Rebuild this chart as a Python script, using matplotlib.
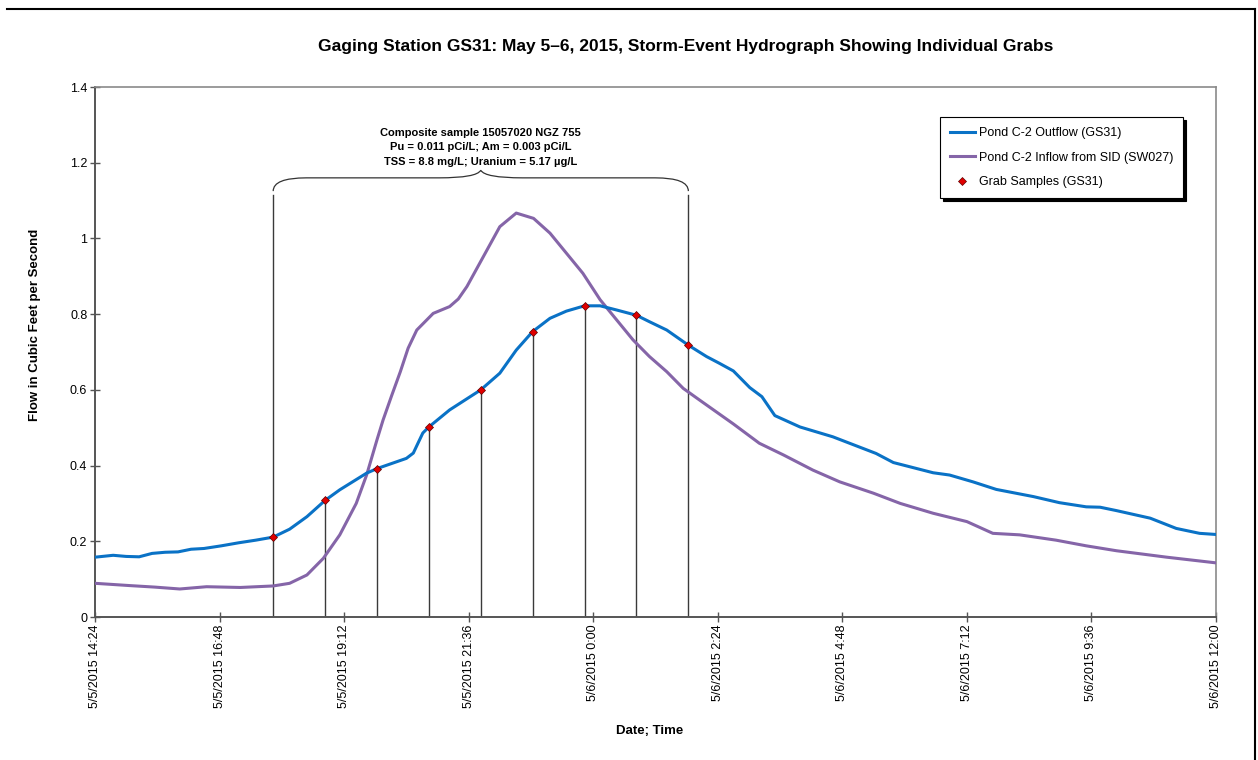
import pandas as pd
import matplotlib.pyplot as plt
import matplotlib.dates as mdates
from matplotlib.path import Path
from matplotlib.patches import PathPatch
from matplotlib.lines import Line2D

plt.rcParams['font.family'] = ['Liberation Sans', 'DejaVu Sans']

# Pond C-2 outflow at GS31 (cfs)
outflow_time = [
    "5/5/2015 14:24", "5/5/2015 14:45", "5/5/2015 15:00", "5/5/2015 15:15",
    "5/5/2015 15:30", "5/5/2015 15:45", "5/5/2015 16:00", "5/5/2015 16:15",
    "5/5/2015 16:30", "5/5/2015 16:50", "5/5/2015 17:10", "5/5/2015 17:30",
    "5/5/2015 17:50", "5/5/2015 18:09", "5/5/2015 18:29", "5/5/2015 18:50",
    "5/5/2015 19:07", "5/5/2015 19:38", "5/5/2015 19:50", "5/5/2015 20:24",
    "5/5/2015 20:32", "5/5/2015 20:38", "5/5/2015 20:43", "5/5/2015 20:50",
    "5/5/2015 21:14", "5/5/2015 21:50", "5/5/2015 22:12", "5/5/2015 22:31",
    "5/5/2015 22:50", "5/5/2015 23:10", "5/5/2015 23:29", "5/5/2015 23:50",
    "5/6/2015 0:08", "5/6/2015 0:27", "5/6/2015 0:50", "5/6/2015 1:05",
    "5/6/2015 1:25", "5/6/2015 1:50", "5/6/2015 2:11", "5/6/2015 2:26",
    "5/6/2015 2:42", "5/6/2015 3:01", "5/6/2015 3:15", "5/6/2015 3:30",
    "5/6/2015 3:59", "5/6/2015 4:37", "5/6/2015 5:27", "5/6/2015 5:47",
    "5/6/2015 6:33", "5/6/2015 6:52", "5/6/2015 7:19", "5/6/2015 7:46",
    "5/6/2015 8:29", "5/6/2015 8:59", "5/6/2015 9:30", "5/6/2015 9:46",
    "5/6/2015 10:05", "5/6/2015 10:44", "5/6/2015 11:14", "5/6/2015 11:41",
    "5/6/2015 12:00",
]
outflow_cfs = [
    0.158, 0.163, 0.160, 0.159,
    0.168, 0.171, 0.172, 0.179,
    0.181, 0.188, 0.196, 0.203,
    0.211, 0.232, 0.265, 0.308,
    0.336, 0.380, 0.392, 0.419,
    0.433, 0.462, 0.486, 0.502,
    0.547, 0.600, 0.644, 0.705,
    0.754, 0.789, 0.808, 0.822,
    0.822, 0.811, 0.797, 0.780,
    0.758, 0.718, 0.688, 0.670,
    0.650, 0.606, 0.582, 0.532,
    0.502, 0.476, 0.432, 0.408,
    0.381, 0.375, 0.357, 0.337,
    0.318, 0.302, 0.291, 0.290,
    0.281, 0.261, 0.234, 0.221,
    0.218,
]

# Pond C-2 inflow from SID at SW027 (cfs)
inflow_time = [
    "5/5/2015 14:24", "5/5/2015 15:04", "5/5/2015 15:33", "5/5/2015 16:02",
    "5/5/2015 16:33", "5/5/2015 17:12", "5/5/2015 17:50", "5/5/2015 18:09",
    "5/5/2015 18:29", "5/5/2015 18:48", "5/5/2015 19:07", "5/5/2015 19:26",
    "5/5/2015 19:38", "5/5/2015 19:50", "5/5/2015 19:57", "5/5/2015 20:07",
    "5/5/2015 20:17", "5/5/2015 20:26", "5/5/2015 20:36", "5/5/2015 20:55",
    "5/5/2015 21:14", "5/5/2015 21:24", "5/5/2015 21:34", "5/5/2015 21:53",
    "5/5/2015 22:12", "5/5/2015 22:31", "5/5/2015 22:51", "5/5/2015 23:10",
    "5/5/2015 23:29", "5/5/2015 23:48", "5/6/2015 0:08", "5/6/2015 0:27",
    "5/6/2015 0:46", "5/6/2015 1:05", "5/6/2015 1:25", "5/6/2015 1:44",
    "5/6/2015 2:03", "5/6/2015 2:42", "5/6/2015 3:12", "5/6/2015 3:40",
    "5/6/2015 4:14", "5/6/2015 4:45", "5/6/2015 5:24", "5/6/2015 5:55",
    "5/6/2015 6:33", "5/6/2015 7:12", "5/6/2015 7:42", "5/6/2015 8:13",
    "5/6/2015 8:55", "5/6/2015 9:30", "5/6/2015 10:05", "5/6/2015 11:03",
    "5/6/2015 12:00",
]
inflow_cfs = [
    0.089, 0.083, 0.079, 0.074,
    0.080, 0.078, 0.082, 0.089,
    0.111, 0.155, 0.217, 0.300,
    0.375, 0.468, 0.520, 0.585,
    0.648, 0.710, 0.758, 0.802,
    0.820, 0.840, 0.873, 0.952,
    1.031, 1.067, 1.053, 1.014,
    0.961, 0.908, 0.838, 0.785,
    0.732, 0.688, 0.648, 0.604,
    0.573, 0.510, 0.459, 0.428,
    0.388, 0.357, 0.327, 0.300,
    0.274, 0.252, 0.221, 0.217,
    0.203, 0.188, 0.175, 0.158,
    0.143,
]

# hourly grab samples at GS31
grab_time = [
    "5/5/2015 17:50", "5/5/2015 18:50", "5/5/2015 19:50", "5/5/2015 20:50",
    "5/5/2015 21:50", "5/5/2015 22:50", "5/5/2015 23:50", "5/6/2015 0:50",
    "5/6/2015 1:50",
]
grab_cfs = [0.211, 0.309, 0.392, 0.502, 0.600, 0.754, 0.822, 0.797, 0.718]

composite_note = ("Composite sample 15057020 NGZ 755\n"
                  "Pu = 0.011 pCi/L; Am = 0.003 pCi/L\n"
                  "TSS = 8.8 mg/L; Uranium = 5.17 \u00b5g/L")

fmt = "%m/%d/%Y %H:%M"
t_out = pd.to_datetime(outflow_time, format=fmt)
t_in = pd.to_datetime(inflow_time, format=fmt)
t_grab = pd.to_datetime(grab_time, format=fmt)

narrow = ['Liberation Sans Narrow', 'Liberation Sans', 'DejaVu Sans']
axis_grey = '#555555'

fig = plt.figure(figsize=(12.58, 7.6), dpi=100)
ax = fig.add_axes([95 / 1258, 1 - 617 / 760, (1216 - 95) / 1258, (617 - 87) / 760])

# sample stems; first and last run up to the composite bracket
top_stem = 1.115
for i, (t, v) in enumerate(zip(t_grab, grab_cfs)):
    y1 = top_stem if i in (0, len(grab_cfs) - 1) else v
    ax.plot([t, t], [0, y1], color='#3a3a3a', lw=1.0, zorder=2)

ax.plot(t_out, outflow_cfs, color='#0A72C6', lw=2.2, zorder=4,
        solid_joinstyle='round', label='Pond C-2 Outflow (GS31)')
ax.plot(t_in, inflow_cfs, color='#8565A8', lw=2.2, zorder=3,
        solid_joinstyle='round', label='Pond C-2 Inflow from SID (SW027)')
ax.plot(t_grab, grab_cfs, linestyle='none', marker='D', markersize=4.2,
        markerfacecolor='#E00000', markeredgecolor='#600000', markeredgewidth=0.5,
        zorder=5, label='Grab Samples (GS31)')

# curly brace over the composited grabs
x0 = mdates.date2num(t_grab[0])
x1 = mdates.date2num(t_grab[-1])
xm = (x0 + x1) / 2
w = x1 - x0
yb, yf, yt = 1.125, 1.16, 1.18
verts = [
    (x0, yb),
    (x0, yf), (x0 + 0.08 * w, yf),
    (xm - 0.10 * w, yf),
    (xm - 0.01 * w, yf), (xm, yt),
    (xm + 0.01 * w, yf), (xm + 0.10 * w, yf),
    (x1 - 0.08 * w, yf),
    (x1, yf), (x1, yb),
]
codes = [Path.MOVETO,
         Path.CURVE3, Path.CURVE3,
         Path.LINETO,
         Path.CURVE3, Path.CURVE3,
         Path.CURVE3, Path.CURVE3,
         Path.LINETO,
         Path.CURVE3, Path.CURVE3]
ax.add_patch(PathPatch(Path(verts, codes), facecolor='none', edgecolor='#333333', lw=0.9))
ax.text(xm, 1.19, composite_note, ha='center', va='bottom', fontsize=8,
        family=narrow, fontweight='bold', linespacing=1.55)

ax.set_ylim(0, 1.4)
ax.set_yticks([0, 0.2, 0.4, 0.6, 0.8, 1.0, 1.2, 1.4])
ax.set_yticklabels(['0', '0.2', '0.4', '0.6', '0.8', '1', '1.2', '1.4'])

start = pd.Timestamp("2015-05-05 14:24")
end = pd.Timestamp("2015-05-06 12:00")
ax.set_xlim(start, end)
xt = pd.date_range(start, end, periods=10)
ax.set_xticks(xt)
ax.set_xticklabels([f"{d.month}/{d.day}/{d.year} {d.hour}:{d.minute:02d}" for d in xt],
                   rotation=90, family=narrow, fontsize=9)
for lab in ax.get_yticklabels():
    lab.set_family(narrow)
    lab.set_fontsize(9)

ax.tick_params(direction='inout', length=7, width=1, color=axis_grey, labelcolor='black', pad=2)
for side in ('top', 'right'):
    ax.spines[side].set_color('#8a8a8a')
    ax.spines[side].set_linewidth(1.2)
for side in ('left', 'bottom'):
    ax.spines[side].set_color(axis_grey)
    ax.spines[side].set_linewidth(1.4)

fig.text(35 / 1258, 1 - 325 / 760, 'Flow in Cubic Feet per Second', rotation=90,
         ha='center', va='center', fontsize=9.5, fontweight='bold', family=narrow)
fig.text(650 / 1258, 1 - 731 / 760, 'Date; Time', ha='center', va='center',
         fontsize=9.5, fontweight='bold', family=narrow)
fig.text(686 / 1258, 1 - 47 / 760,
         'Gaging Station GS31: May 5\u20136, 2015, Storm-Event Hydrograph Showing Individual Grabs',
         ha='center', va='center', fontsize=12.5, fontweight='bold')

leg = ax.legend(loc='upper right', bbox_to_anchor=(1183 / 1258, 1 - 117 / 760),
                bbox_transform=fig.transFigure, fontsize=9, numpoints=1,
                frameon=True, fancybox=False, shadow={'color': 'black', 'alpha': 1},
                labelspacing=1.0, handlelength=2.0, handletextpad=0.3,
                borderpad=0.8, borderaxespad=0)
leg.get_frame().set_edgecolor('black')
leg.get_frame().set_linewidth(0.8)

# outer chart frame (top and right edges)
fig.add_artist(Line2D([7 / 1258, 1255 / 1258], [1 - 9 / 760, 1 - 9 / 760],
                      transform=fig.transFigure, color='black', lw=1.5))
fig.add_artist(Line2D([1255 / 1258, 1255 / 1258], [1 - 9 / 760, 0],
                      transform=fig.transFigure, color='black', lw=1.5))

fig.savefig('out.png', dpi=100)
